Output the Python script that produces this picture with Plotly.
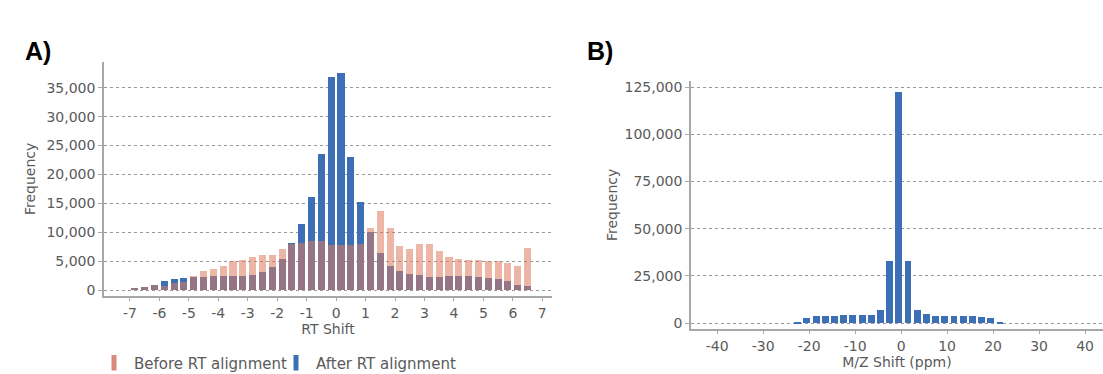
import plotly.graph_objects as go

# ---------------- Data ----------------
# Panel A: RT shift histogram (bin centres, 1/3-unit bins)
rt_centers = [-6.833, -6.5, -6.167, -5.833, -5.5, -5.167, -4.833, -4.5, -4.167, -3.833,
              -3.5, -3.167, -2.833, -2.5, -2.167, -1.833, -1.5, -1.167, -0.833, -0.5,
              -0.167, 0.167, 0.5, 0.833, 1.167, 1.5, 1.833, 2.167, 2.5, 2.833,
              3.167, 3.5, 3.833, 4.167, 4.5, 4.833, 5.167, 5.5, 5.833, 6.167, 6.5]
before_rt = [450, 600, 1000, 800, 1300, 1450, 2400, 3250, 3600, 4250,
             5000, 5250, 5700, 6050, 6100, 7050, 8000, 8200, 8600, 8450,
             7800, 7800, 7800, 8000, 10800, 13700, 10800, 7650, 7050, 8000,
             7950, 6800, 5800, 5450, 5250, 5250, 5050, 5000, 4750, 4200, 7250]
after_rt = [450, 600, 1000, 1600, 2000, 2100, 2350, 2350, 2450, 2550,
            2400, 2500, 2600, 3150, 4000, 5450, 8150, 11500, 16200, 23600,
            36900, 37500, 23000, 15300, 10050, 6400, 4250, 3400, 2750, 2600,
            2300, 2350, 2450, 2450, 2450, 2300, 2150, 1950, 1550, 850, 800]
rt_ticks = [-7, -6, -5, -4, -3, -2, -1, 0, 1, 2, 3, 4, 5, 6, 7]
rt_tick_labels = ["-7", "-6", "-5", "-4", "-3", "-2", "-1", "0", "1", "2", "3", "4", "5", "6", "7"]
rt_yticks = [0, 5000, 10000, 15000, 20000, 25000, 30000, 35000]

# Panel B: M/Z shift histogram (2 ppm bins)
mz_centers = [-22.5, -20.5, -18.5, -16.5, -14.5, -12.5, -10.5, -8.5, -6.5, -4.5, -2.5, -0.5,
              1.5, 3.5, 5.5, 7.5, 9.5, 11.5, 13.5, 15.5, 17.5, 19.5, 21.5]
mz_freq = [450, 2800, 3700, 3700, 3900, 4000, 4050, 4200, 4500, 6800, 32600, 122500,
           33100, 6700, 4600, 3900, 3800, 3800, 3700, 3600, 3300, 2550, 600]
mz_ticks = [-40, -30, -20, -10, 0, 10, 20, 30, 40]
mz_tick_labels = ["-40", "-30", "-20", "-10", "0", "10", "20", "30", "40"]
mz_yticks = [0, 25000, 50000, 75000, 100000, 125000]

# ---------------- Style ----------------
W, H = 1103, 374
BLUE = "#3c6fb5"
PINK = "rgb(222,122,95)"
PINK_SWATCH = "rgb(217,137,123)"
TXT = "#5a5a5a"
GRID = "#9a9a9a"
AXL = "#a8a8a8"
FONT = "DejaVu Sans"


def px_x(p):
    return p / W


def px_y(p):
    return (H - p) / H


fig = go.Figure()
fig.add_trace(go.Bar(x=rt_centers, y=after_rt, name="After RT alignment", showlegend=False,
                     marker=dict(color=BLUE, line=dict(width=0)), width=0.24,
                     xaxis="x", yaxis="y"))
fig.add_trace(go.Bar(x=rt_centers, y=before_rt, name="Before RT alignment", showlegend=False,
                     marker=dict(color=PINK, line=dict(width=0)), opacity=0.55, width=0.24,
                     xaxis="x", yaxis="y"))
fig.add_trace(go.Bar(x=mz_centers, y=mz_freq, name="M/Z shift", showlegend=False,
                     marker=dict(color=BLUE, line=dict(width=0)), width=1.5,
                     xaxis="x2", yaxis="y2"))
# legend entries (narrow swatches like the original)
fig.add_trace(go.Scatter(x=[None], y=[None], mode="markers", name="Before RT alignment",
                         marker=dict(symbol="line-ns", size=11, color=PINK_SWATCH,
                                     line=dict(width=5, color=PINK_SWATCH)),
                         xaxis="x", yaxis="y", legend="legend"))
fig.add_trace(go.Scatter(x=[None], y=[None], mode="markers", name="After RT alignment",
                         marker=dict(symbol="line-ns", size=11, color=BLUE,
                                     line=dict(width=5, color=BLUE)),
                         xaxis="x", yaxis="y", legend="legend2"))

tickfont = dict(family=FONT, size=14, color=TXT)
titlefont = dict(family=FONT, size=14, color=TXT)

common_x = dict(showgrid=False, zeroline=False, showline=True, linecolor=AXL, linewidth=1.5,
                ticks="outside", ticklen=4, tickwidth=1, tickcolor=AXL, tickfont=tickfont)
common_y = dict(showgrid=True, gridcolor=GRID, griddash="dot", gridwidth=1, zeroline=False,
                showline=True, linecolor=AXL, linewidth=1.5, ticks="outside", ticklen=4,
                tickwidth=1, tickcolor=AXL, tickfont=tickfont, tickformat=",")

fig.update_layout(
    width=W, height=H,
    margin=dict(l=0, r=0, t=0, b=0, autoexpand=False),
    paper_bgcolor="white", plot_bgcolor="white",
    barmode="overlay", bargap=0,
    font=dict(family=FONT, color=TXT),
    xaxis=dict(domain=[px_x(104), px_x(552)], range=[-7.88, 7.33], tickvals=rt_ticks,
               ticktext=rt_tick_labels,
               title=dict(text="RT Shift", font=titlefont, standoff=4), anchor="y", **common_x),
    yaxis=dict(domain=[px_y(295.7), px_y(62)], range=[-933, 39440], tickvals=rt_yticks,
               title=dict(text="Frequency", font=titlefont, standoff=8), anchor="x", **common_y),
    xaxis2=dict(domain=[px_x(691), 1.0], range=[-45.7, 43.9], tickvals=mz_ticks,
                ticktext=mz_tick_labels,
                title=dict(text="M/Z Shift (ppm)", font=titlefont, standoff=4), anchor="y2", **common_x),
    yaxis2=dict(domain=[px_y(328.7), px_y(81)], range=[-3000, 128200], tickvals=mz_yticks,
                title=dict(text="Frequency", font=titlefont, standoff=4), anchor="x2", **common_y),
    legend=dict(orientation="h", x=px_x(94), xanchor="left", y=px_y(363), yanchor="middle",
                bgcolor="rgba(0,0,0,0)", font=dict(family=FONT, size=15, color=TXT)),
    legend2=dict(orientation="h", x=px_x(276), xanchor="left", y=px_y(363), yanchor="middle",
                 bgcolor="rgba(0,0,0,0)", font=dict(family=FONT, size=15, color=TXT)),
    annotations=[
        dict(text="<b>A)</b>", x=px_x(38), y=px_y(51), xref="paper", yref="paper",
             xanchor="center", yanchor="middle", showarrow=False,
             font=dict(family="Liberation Sans", size=25, color="black")),
        dict(text="<b>B)</b>", x=px_x(600), y=px_y(51), xref="paper", yref="paper",
             xanchor="center", yanchor="middle", showarrow=False,
             font=dict(family="Liberation Sans", size=25, color="black")),
    ],
)

fig.write_html("out.html", config={"displayModeBar": False},
               post_script="document.body.style.margin='0px';document.body.style.overflow='hidden';")
